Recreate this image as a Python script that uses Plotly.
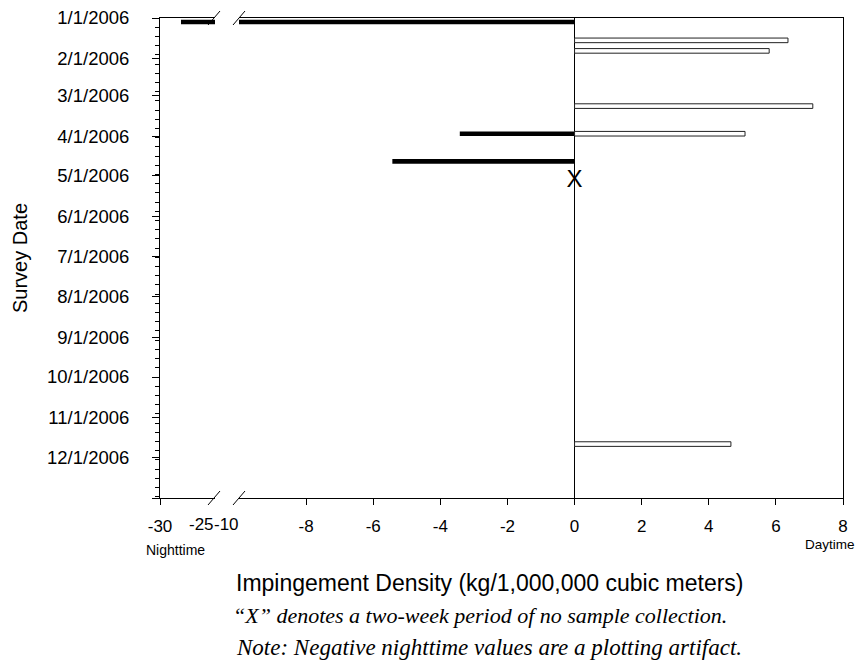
import plotly.graph_objects as go
import pandas as pd

# ---- data ----
night_dates = ["2006-01-04", "2006-03-30", "2006-04-20"]
night_values = [-27.5, -3.42, -5.43]
day_dates = ["2006-01-18", "2006-01-26", "2006-03-09", "2006-03-30", "2006-11-21"]
day_values = [6.36, 5.80, 7.10, 5.08, 4.66]
no_sample_dates = ["2006-05-05"]
no_sample_values = [0]
month_ticks = ["2006-%02d-01" % m for m in range(1, 13)] + ["2007-01-01"]
month_labels = ["%d/1/2006" % m for m in range(1, 13)] + [""]
x_right_ticks = [-8, -6, -4, -2, 0, 2, 4, 6, 8]
x_right_labels = ["-8", "-6", "-4", "-2", "0", "2", "4", "6", "8"]
x_left_ticks = [-30]
x_left_labels = ["-30"]

OFF = 8  # page body margin
W, H = 867 - OFF, 665 - OFF
L, T = 160 - OFF, 18 - OFF
PW, PH = 683, 480
R, B = W - L - PW, H - T - PH

def px(x):  # reference pixel -> paper
    return (x - OFF - L) / PW

def py(y):
    return (T + PH - (y - OFF)) / PH

split1 = px(215)
split2 = px(239)

DAY_MS = 86400000
bar_w = 3.5 * DAY_MS
font_fam = "Arial, Liberation Sans, sans-serif"
serif = "Times New Roman, Liberation Serif, serif"

fig = go.Figure()
for xa, ya in (("x", "y"), ("x2", "y2")):
    fig.add_trace(go.Bar(
        x=night_values, y=pd.to_datetime(night_dates), orientation="h",
        width=[bar_w] * len(night_values),
        marker=dict(color="black", line=dict(width=0)),
        xaxis=xa, yaxis=ya, showlegend=False, name="Nighttime"))
fig.add_trace(go.Bar(
    x=day_values, y=pd.to_datetime(day_dates), orientation="h",
    width=[bar_w] * len(day_values),
    marker=dict(color="white", line=dict(color="#222", width=1)),
    xaxis="x2", yaxis="y2", showlegend=False, name="Daytime"))
fig.add_trace(go.Scatter(
    x=no_sample_values, y=pd.to_datetime(no_sample_dates), mode="text",
    text=["X"], textposition="middle center",
    textfont=dict(size=24, color="black", family=font_fam),
    xaxis="x2", yaxis="y2", showlegend=False, cliponaxis=False))

xtickfont = dict(family=font_fam, size=17, color="black")
ytickfont = dict(family=font_fam, size=18.5, color="black")
yrange = ["2006-01-01", "2007-01-01"]
weekly = pd.date_range("2006-01-01", "2007-01-01", freq="7D")

common_x = dict(ticks="outside", ticklen=6, tickcolor="black", showline=True,
                linecolor="black", linewidth=1, mirror=True, showgrid=False,
                tickfont=xtickfont, automargin=False, ticklabelstandoff=7,
                ticklabeloverflow="allow")

fig.update_layout(
    width=W, height=H,
    margin=dict(l=L, r=R, t=T, b=B, autoexpand=False),
    paper_bgcolor="white", plot_bgcolor="white",
    barmode="overlay",
    xaxis=dict(domain=[0, split1], range=[-30, -23.45], tickvals=x_left_ticks,
               ticktext=x_left_labels, zeroline=False, anchor="y", **common_x),
    xaxis2=dict(domain=[split2, 1], range=[-10, 8], tickvals=x_right_ticks,
                ticktext=x_right_labels,
                zeroline=True, zerolinecolor="black", zerolinewidth=1,
                anchor="y2", **common_x),
    yaxis=dict(type="date", range=[yrange[1], yrange[0]], tickvals=month_ticks,
               ticktext=month_labels, ticks="outside", ticklen=7, tickcolor="black",
               minor=dict(tickvals=list(weekly), ticks="outside", ticklen=4, tickcolor="black"),
               showline=True, linecolor="black", linewidth=1, showgrid=False,
               zeroline=False, tickfont=ytickfont, anchor="x", ticklabelstandoff=19,
               automargin=False, ticklabeloverflow="allow"),
    yaxis2=dict(type="date", matches="y", anchor="x2", side="right", showline=True,
                linecolor="black", linewidth=1, showticklabels=False, ticks="",
                showgrid=False, zeroline=False, automargin=False),
)

def ann(x, y, text, size, fam=font_fam, **kw):
    d = dict(x=px(x), y=py(y), xref="paper", yref="paper", text=text,
             showarrow=False, xanchor="center", yanchor="middle",
             font=dict(family=fam, size=size, color="black"))
    d.update(kw)
    return d

annots = [
    dict(x=-25, y=0, xref="x", yref="paper", yshift=-15, yanchor="top", xanchor="center",
         text="-25", showarrow=False, font=xtickfont),
    dict(x=-10, y=0, xref="x2", yref="paper", yshift=-15, xshift=-13, yanchor="top",
         xanchor="center", text="-10", showarrow=False, font=xtickfont),
    ann(175, 550, "Nighttime", 14),
    ann(830, 544, "Daytime", 13.5),
    ann(490, 583, "Impingement Density (kg/1,000,000 cubic meters)", 23),
    ann(480, 615, "<i>\u201cX\u201d denotes a two-week period of no sample collection.</i>",
        22, serif),
    ann(488.5, 647, "<i>Note: Negative nighttime values are a plotting artifact.</i>",
        23, serif),
    ann(20, 258, "Survey Date", 20, textangle=-90),
]
fig.update_layout(annotations=annots)

# axis-break slashes
shapes = []
for cx in (214, 239):
    for cy in (18, 498):
        shapes.append(dict(type="line", xref="paper", yref="paper",
                           x0=px(cx - 6), y0=py(cy + 7), x1=px(cx + 6), y1=py(cy - 7),
                           line=dict(color="black", width=1)))
fig.update_layout(shapes=shapes)

fig.write_html("out.html")
